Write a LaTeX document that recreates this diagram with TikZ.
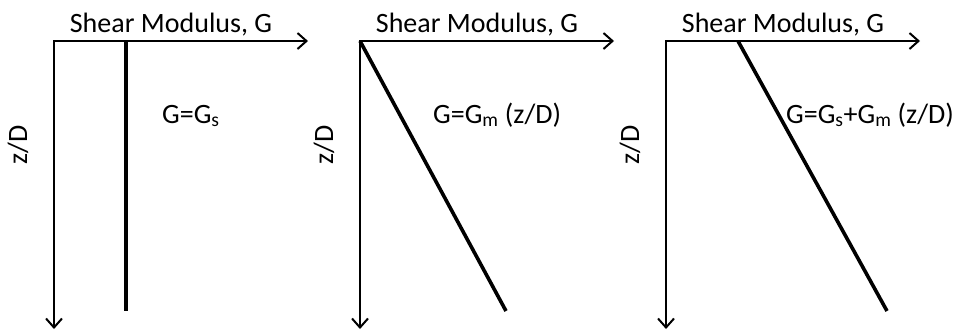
\documentclass[tikz,border=0pt]{standalone}
\usepackage{fontspec}
\setmainfont{Carlito}
\usetikzlibrary{arrows.meta}
\begin{document}
\begin{tikzpicture}[x=1pt,y=-1pt,
    axis/.style={line width=2pt, {Straight Barb[length=9pt,width=16pt]}-{Straight Barb[length=9pt,width=16pt]}},
    profile/.style={line width=3.6pt},
    lbl/.style={font=\fontsize{28}{33}\selectfont, inner sep=0pt}]
    \useasboundingbox (0,0) rectangle (954,330);
    
    % three panels: origin, line top, line bottom, label, label offset
    \foreach \n/\ox/\ta/\tb/\txt/\tx in {
        1/54/126/126/{G=G\textsubscript{s}}/108,
        2/360/360/506/{G=G\textsubscript{m} (z/D)}/73,
        3/666/738/887/{G=G\textsubscript{s}+G\textsubscript{m} (z/D)}/120%
    } {
        \coordinate (o\n) at (\ox,41);
        \coordinate (gx\n) at (\ox+254,41);
        \coordinate (zd\n) at (\ox,329);
        \coordinate (p\n) at (\ta,41);
        \coordinate (q\n) at (\tb,311);
        
        % axes
        \draw[axis] (gx\n) -- (o\n) -- (zd\n);
        % modulus profile
        \draw[profile] (p\n) -- (q\n);
        
        \node[lbl, anchor=base] (shear\n) at (\ox+117,32) {Shear Modulus, G};
        \node[lbl, rotate=90] (zlab\n) at (\ox-36,145) {z/D};
        \node[lbl, anchor=base west] (eq\n) at (\ox+\tx,123) {\txt};
    }
\end{tikzpicture}
\end{document}
